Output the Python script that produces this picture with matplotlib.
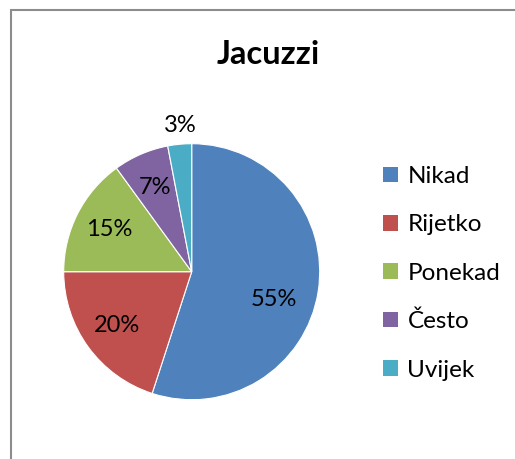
import matplotlib
matplotlib.use('Agg')
import matplotlib.pyplot as plt
from matplotlib.patches import Rectangle, Patch

plt.rcParams['font.family'] = ['Lato', 'DejaVu Sans']

labels = ['Nikad', 'Rijetko', 'Ponekad', 'Često', 'Uvijek']
values = [55, 20, 15, 7, 3]
colors = ['#4F81BD', '#C0504D', '#9BBB59', '#8064A2', '#4BACC6']

W, H = 515, 459
fig = plt.figure(figsize=(W / 100, H / 100), dpi=100)

# chart frame (Excel style, cut off at right and bottom)
fig.patches.append(Rectangle((11 / W, -0.1), 1.2, 1 - 10 / H + 0.1,
                             transform=fig.transFigure, fill=False,
                             edgecolor='#8c8c8c', linewidth=1.5))

fig.text(268 / W, 1 - 54 / H, 'Jacuzzi', ha='center', va='center',
         fontsize=23.5, fontweight='bold')

cx, cy, r = 191.7, 271.7, 128
ax = fig.add_axes([(cx - r) / W, (H - cy - r) / H, 2 * r / W, 2 * r / H])
wedges, texts, autotexts = ax.pie(values, colors=colors, startangle=90,
                                  counterclock=False, autopct='%d%%',
                                  pctdistance=0.72,
                                  wedgeprops=dict(edgecolor='white', linewidth=0.8),
                                  textprops=dict(fontsize=17))
ax.set_xlim(-1, 1)
ax.set_ylim(-1, 1)
ax.set_aspect('equal')

# Excel places the big slice label lower and the tiny one outside
autotexts[0].set_position((0.64, -0.22))
autotexts[4].set_position((-0.09, 1.14))

handles = [Patch(facecolor=c) for c in colors]
fig.legend(handles, labels, loc='upper left', bbox_to_anchor=(371 / W, 1 - 154 / H),
           frameon=False, fontsize=17.5, labelspacing=1.12, handlelength=0.6,
           handleheight=0.6, handletextpad=0.4, borderpad=0)

fig.savefig('out.png', dpi=100)
